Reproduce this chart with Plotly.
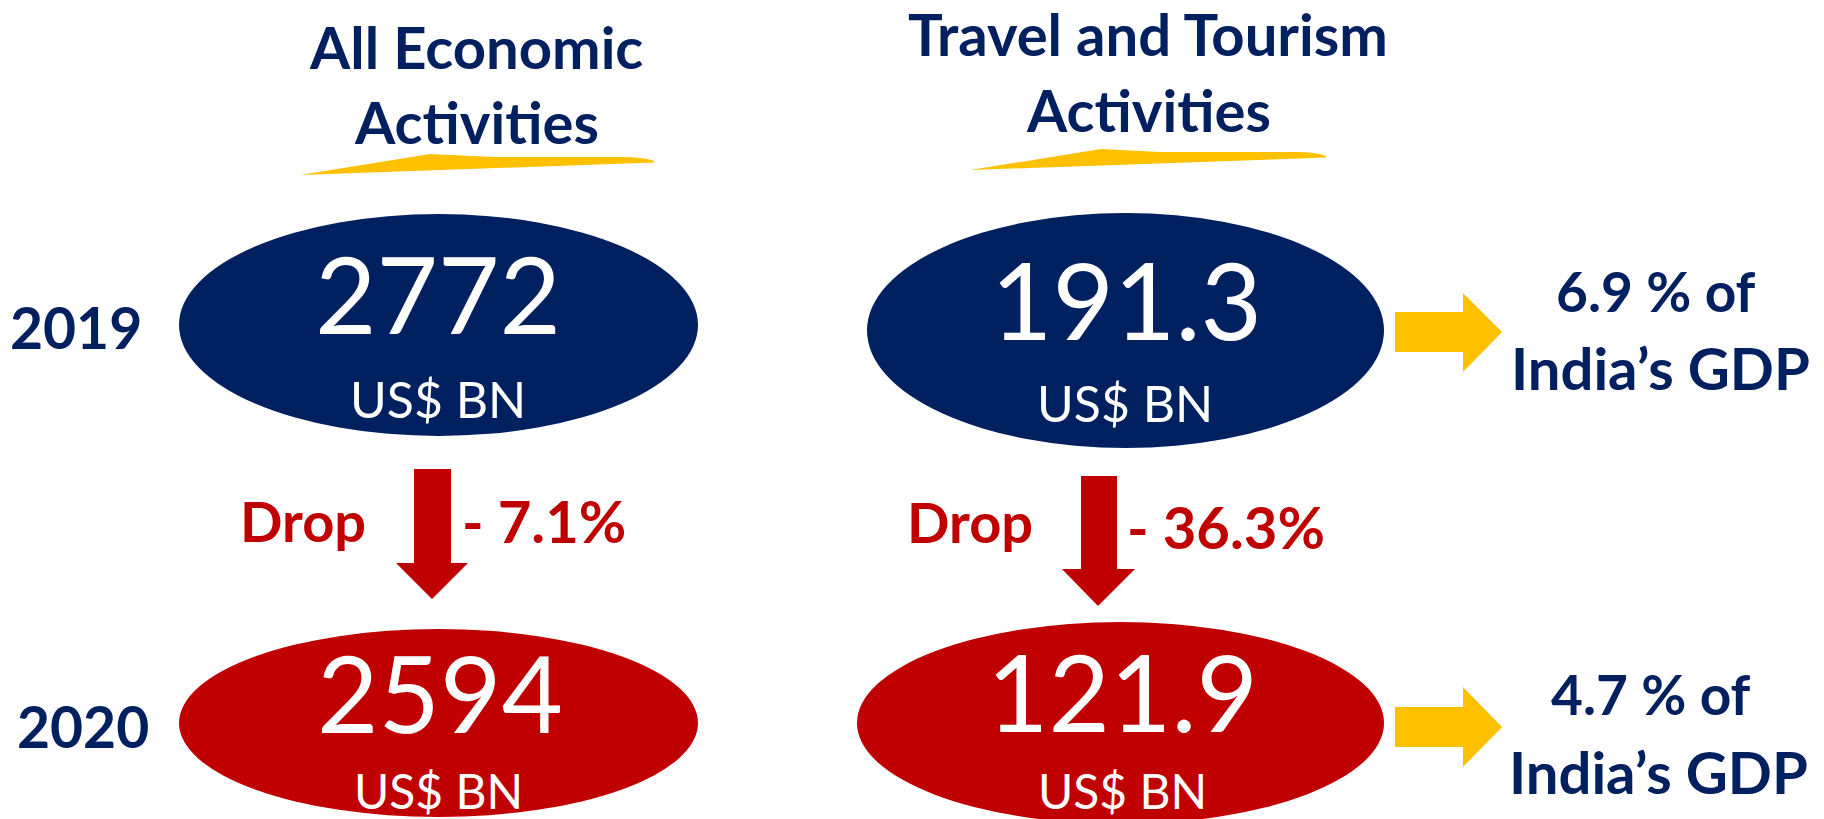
import plotly.graph_objects as go

# ---------------- data ----------------
years = ["2019", "2020"]
categories = [["All Economic", "Activities"], ["Travel and Tourism", "Activities"]]
all_econ_values = [2772, 2594]          # US$ BN
travel_values = [191.3, 121.9]          # US$ BN
drop_pct = [-7.1, -36.3]                # % change 2019 -> 2020
gdp_share = [6.9, 4.7]                  # travel & tourism share of India's GDP
unit_label = "US$ BN"
drop_label = "Drop"
gdp_suffix = "India’s GDP"

# ---------------- style ----------------
NAVY = "#002060"
RED = "#C00000"
YELLOW = "#FFC000"
WHITE = "#FFFFFF"
FONT = "Lato"

W, H = 1824, 819
fig = go.Figure()

# layout geometry (pixels in a 1824 x 819 canvas, y downwards)
ellipses = {
    (0, 0): (179, 214, 698, 436),
    (0, 1): (179, 629, 698, 817),
    (1, 0): (867, 213, 1384, 448),
    (1, 1): (857, 622, 1384, 824),
}
num_y = {(0, 0): 293, (0, 1): 692, (1, 0): 299, (1, 1): 691}
num_x = {(0, 0): 438, (0, 1): 440, (1, 0): 1126, (1, 1): 1122}
unit_y = {(0, 0): 399, (0, 1): 790, (1, 0): 403, (1, 1): 790}
unit_x = {(0, 0): 438, (0, 1): 438, (1, 0): 1125, (1, 1): 1122}
unit_size = {(0, 0): 50, (0, 1): 48, (1, 0): 50, (1, 1): 48}
year_pos = [(76, 327), (83, 726)]
title_pos = [(476, 46, 121), (1148, 33, 109)]
swooshes = [
    (300, 175, 430, 154, 494, 157, 617, 157, 654, 161),
    (970, 170, 1101, 149, 1160, 152, 1296, 152, 1326, 156),
]
down_arrows = [  # shaft x0, x1, top, head y, head x0, x1, tip x, tip y
    (414, 451, 469, 563, 396, 468, 432, 599),
    (1081, 1117, 476, 569, 1062, 1135, 1098, 606),
]
drop_word_pos = [(303, 520), (970, 521)]
drop_pct_pos = [(544, 520), (1226, 526)]
right_arrows = [  # shaft x0, x1, y0, y1, head y0, y1, tip x, tip y
    (1395, 1463, 312, 352, 293, 372, 1502, 332),
    (1395, 1463, 707, 747, 687, 767, 1502, 727),
]
gdp_pos = [((1656, 291), (1660, 367)), ((1651, 694), (1658, 771))]

fills = [NAVY, RED]
values = [all_econ_values, travel_values]
fmts = ["{:.0f}", "{:.1f}"]


def ann(x, y, text, size, color, weight="bold"):
    fig.add_annotation(
        x=x, y=y, xref="x", yref="y", text=text, showarrow=False,
        xanchor="center", yanchor="middle",
        font=dict(family=FONT, size=size, color=color, weight=weight),
    )


# titles + swooshes
for c in range(2):
    tx, ty1, ty2 = title_pos[c]
    ann(tx, ty1, categories[c][0], 58, NAVY)
    ann(tx, ty2, categories[c][1], 58, NAVY)
    a = swooshes[c]
    path = (f"M {a[0]},{a[1]} L {a[2]},{a[3]} L {a[4]},{a[5]} L {a[6]},{a[7]} "
            f"Q {a[8]-10},{a[9]-4} {a[8]},{a[9]} L {a[8]},{a[9]+1.5} Z")
    fig.add_shape(type="path", path=path, fillcolor=YELLOW, line=dict(width=0),
                  xref="x", yref="y")

# ellipses with values
for c in range(2):
    for r in range(2):
        x0, y0, x1, y1 = ellipses[(c, r)]
        fig.add_shape(type="circle", x0=x0, y0=y0, x1=x1, y1=y1,
                      fillcolor=fills[r], line=dict(width=0), xref="x", yref="y",
                      layer="below")
        ann(num_x[(c, r)], num_y[(c, r)], fmts[c].format(values[c][r]), 106, WHITE, "normal")
        ann(unit_x[(c, r)], unit_y[(c, r)], unit_label, unit_size[(c, r)], WHITE, "normal")

# years
for r in range(2):
    ann(year_pos[r][0], year_pos[r][1], years[r], 57, NAVY)

# drop arrows and labels
for c in range(2):
    sx0, sx1, top, hy, hx0, hx1, tx, ty = down_arrows[c]
    path = (f"M {sx0},{top} L {sx1},{top} L {sx1},{hy} L {hx1},{hy} L {tx},{ty} "
            f"L {hx0},{hy} L {sx0},{hy} Z")
    fig.add_shape(type="path", path=path, fillcolor=RED, line=dict(width=0),
                  xref="x", yref="y")
    ann(drop_word_pos[c][0], drop_word_pos[c][1], drop_label, 56, RED)
    ann(drop_pct_pos[c][0], drop_pct_pos[c][1], f"- {abs(drop_pct[c]):.1f}%", 58, RED)

# GDP share arrows and labels
for r in range(2):
    sx0, sx1, sy0, sy1, hy0, hy1, tx, ty = right_arrows[r]
    path = (f"M {sx0},{sy0} L {sx1},{sy0} L {sx1},{hy0} L {tx},{ty} L {sx1},{hy1} "
            f"L {sx1},{sy1} L {sx0},{sy1} Z")
    fig.add_shape(type="path", path=path, fillcolor=YELLOW, line=dict(width=0),
                  xref="x", yref="y")
    (x1, y1), (x2, y2) = gdp_pos[r]
    ann(x1, y1, f"{gdp_share[r]:.1f} % of", 55, NAVY)
    ann(x2, y2, gdp_suffix, 58, NAVY)

fig.update_layout(
    width=W, height=H, margin=dict(l=0, r=0, t=0, b=0),
    paper_bgcolor="white", plot_bgcolor="white", showlegend=False,
    xaxis=dict(range=[0, W], visible=False, fixedrange=True),
    yaxis=dict(range=[H, 0], visible=False, fixedrange=True),
)

fig.write_html("out.html", config={"displayModeBar": False},
               post_script="document.body.style.margin='0';document.body.style.overflow='hidden';")
